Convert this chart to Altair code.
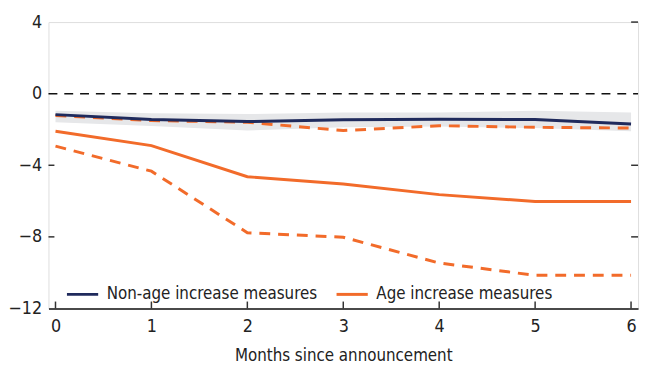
import altair as alt
import pandas as pd

months = [0, 1, 2, 3, 4, 5, 6]
nonage = [-1.17, -1.44, -1.56, -1.46, -1.43, -1.44, -1.70]
nonage_lo = [-1.60, -1.80, -2.06, -1.88, -1.84, -1.92, -2.10]
nonage_hi = [-0.96, -1.10, -1.14, -1.05, -1.05, -0.96, -1.05]
age = [-2.10, -2.90, -4.64, -5.05, -5.64, -6.02, -6.02]
age_hi = [-1.22, -1.50, -1.60, -2.06, -1.79, -1.88, -1.92]
age_lo = [-2.93, -4.33, -7.77, -8.02, -9.46, -10.15, -10.15]

series_names = ["Non-age increase measures", "Age increase measures"]
series_colors = ["#1f2a5c", "#f26b2a"]
y_ticks = [4, 0, -4, -8, -12]
left_ticks = [-4, -8]
right_ticks = [4, -4, -8]
x_ticks = [0, 1, 2, 3, 4, 5, 6]

W, H = 597, 290
FONT = "DejaVu Sans Condensed, Roboto Condensed, Liberation Sans Narrow, Roboto, sans-serif"

band_df = pd.DataFrame({"month": months, "lo": nonage_lo, "hi": nonage_hi})
lines_df = pd.DataFrame({
    "month": months * 2,
    "value": nonage + age,
    "series": [series_names[0]] * 7 + [series_names[1]] * 7,
})
dash_df = pd.DataFrame({
    "month": months * 2,
    "value": age_hi + age_lo,
    "band": ["hi"] * 7 + ["lo"] * 7,
})

xs = alt.Scale(domain=[-0.073, 6.073], nice=False, zero=False)
ys = alt.Scale(domain=[-12, 4], nice=False)

xaxis = alt.Axis(values=x_ticks, title="Months since announcement", ticks=False,
                 domainColor="#4a4a4a", domainWidth=2, labelFont=FONT, labelFontSize=18,
                 labelColor="#222", labelPadding=9, titleFont=FONT, titleFontSize=17,
                 titleFontWeight="normal", titleColor="#222", titlePadding=13, grid=False)
yaxis = alt.Axis(values=y_ticks, title=None, ticks=False, domain=False, labelFont=FONT,
                 labelFontSize=18, labelColor="#222", labelPadding=7, grid=False, format="d")

X = alt.X("month:Q", scale=xs, axis=xaxis)
Y = alt.Y("value:Q", scale=ys, axis=yaxis)

band = alt.Chart(band_df).mark_area(color="#e6e7e9").encode(
    x=X, y=alt.Y("lo:Q", scale=ys, axis=yaxis), y2="hi:Q")

zero = alt.Chart(pd.DataFrame({"value": [0]})).mark_rule(
    color="#111", strokeWidth=1.5, strokeDash=[9, 7]).encode(
    y=Y, x=alt.value(0), x2=alt.value(W))

dashed = alt.Chart(dash_df).mark_line(
    color=series_colors[1], strokeWidth=3, strokeDash=[11, 8]).encode(
    x=X, y=Y, detail="band:N")

lines = alt.Chart(lines_df).mark_line(strokeWidth=3).encode(
    x=X, y=Y,
    color=alt.Color("series:N", scale=alt.Scale(domain=series_names, range=series_colors),
                    sort=series_names,
                    legend=alt.Legend(title=None, orient="none", legendX=17, legendY=258,
                                      direction="horizontal", symbolType="stroke",
                                      symbolSize=1000, symbolStrokeWidth=3,
                                      labelFont=FONT, labelFontSize=17, labelColor="#222",
                                      columnPadding=12, labelOffset=7, labelLimit=0,
                                      padding=0)))

lt = alt.Chart(pd.DataFrame({"value": left_ticks})).mark_rule(
    color="#333", strokeWidth=1.5).encode(y=Y, x=alt.value(0), x2=alt.value(6))
rt = alt.Chart(pd.DataFrame({"value": right_ticks})).mark_rule(
    color="#333", strokeWidth=1.5).encode(y=Y, x=alt.value(W - 7), x2=alt.value(W))
xt = alt.Chart(pd.DataFrame({"month": x_ticks})).mark_rule(
    color="#333", strokeWidth=1.5).encode(x=X, y=alt.value(H - 7), y2=alt.value(H))

chart = alt.layer(band, zero, dashed, lines, lt, rt, xt).properties(
    width=W, height=H,
    autosize=alt.AutoSizeParams(type="none"),
    padding={"left": 41, "top": 12, "right": 4, "bottom": 55},
).configure_view(stroke=None).configure(background="white")

chart.save("out.html", embed_options={"renderer": "svg", "actions": False})
